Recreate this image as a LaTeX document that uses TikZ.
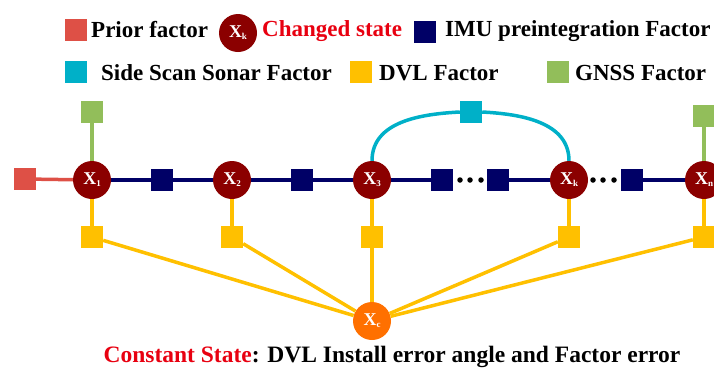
\documentclass[tikz,border=0pt]{standalone}
\usepackage{fontspec}
\setmainfont{Liberation Serif}
\definecolor{priorred}{RGB}{222,80,70}
\definecolor{statered}{RGB}{139,0,0}
\definecolor{textred}{RGB}{232,0,16}
\definecolor{imunavy}{RGB}{0,0,102}
\definecolor{sonarcyan}{RGB}{0,176,200}
\definecolor{dvlyellow}{RGB}{255,192,0}
\definecolor{gnssgreen}{RGB}{146,190,90}
\definecolor{constorange}{RGB}{255,112,0}
\newcommand{\xsub}[1]{X\raisebox{-0.25ex}{\fontsize{9}{9}\selectfont #1}}
\begin{document}
\begin{tikzpicture}[x=1pt,y=-1pt,
		state/.style={circle, fill=statered, minimum size=38pt, inner sep=0pt, text=white, font=\bfseries\fontsize{18}{18}\selectfont},
		factor/.style={rectangle, minimum size=22pt, inner sep=0pt},
		legtext/.style={anchor=west, inner sep=0pt, font=\bfseries\fontsize{23}{24}\selectfont},
		dotc/.style={circle, fill=black, minimum size=5.5pt, inner sep=0pt},
		link/.style={line width=3.5pt}]
		\useasboundingbox (0,0) rectangle (714,370);
		% legend
		\node[factor, fill=priorred] (lprior) at (76,30) {};
		\node[legtext] (tprior) at (91,30) {Prior factor};
		\node[state] (lstate) at (238,33) {\xsub{k}};
		\node[legtext, text=textred] (tstate) at (262,31) {Changed state};
		\node[factor, fill=imunavy] (limu) at (425,32) {};
		\node[legtext] (timu) at (445,31) {IMU preintegration Factor};
		\node[factor, fill=sonarcyan] (lsonar) at (76,72) {};
		\node[legtext] (tsonar) at (101,73) {Side Scan Sonar Factor};
		\node[factor, fill=dvlyellow] (ldvl) at (361,72) {};
		\node[legtext] (tdvl) at (379,73) {DVL Factor};
		\node[factor, fill=gnssgreen] (lgnss) at (558,72) {};
		\node[legtext] (tgnss) at (575,73) {GNSS Factor};
		% states
		\node[state] (x1) at (92,180) {\xsub{1}};
		\node[state] (x2) at (232,180) {\xsub{2}};
		\node[state] (x3) at (372,180) {\xsub{3}};
		\node[state] (xk) at (569,180) {\xsub{k}};
		\node[state] (xn) at (704,180) {\xsub{n}};
		\node[state, fill=constorange] (xc) at (372,321) {\xsub{c}};
		% prior and imu factors
		\node[factor, fill=priorred] (prior) at (25,179) {};
		\node[factor, fill=imunavy] (imu1) at (162,180) {};
		\node[factor, fill=imunavy] (imu2) at (302,180) {};
		\node[factor, fill=imunavy] (imu3) at (442,180) {};
		\node[factor, fill=imunavy] (imu4) at (498,180) {};
		\node[factor, fill=imunavy] (imu5) at (632,180) {};
		\foreach \px in {460,470,481,593,603,614}
			\node[dotc] at (\px,180) {};
		\draw[link, priorred] (prior) -- (x1);
		\draw[link, imunavy] (x1) -- (imu1) -- (x2) -- (imu2) -- (x3) -- (imu3);
		\draw[link, imunavy] (imu4) -- (xk);
		\draw[link, imunavy] (imu5) -- (xn);
		% gnss factors
		\node[factor, fill=gnssgreen] (gnss1) at (92,112) {};
		\node[factor, fill=gnssgreen] (gnssn) at (704,116) {};
		\draw[link, gnssgreen] (gnss1) -- (x1);
		\draw[link, gnssgreen] (gnssn) -- (xn);
		% sonar loop
		\node[factor, fill=sonarcyan] (sonar) at (471,112) {};
		\draw[link, sonarcyan] (x3.north) to[out=90, in=183] (sonar.west);
		\draw[link, sonarcyan] (sonar.east) to[out=-3, in=90] (xk.north);
		% dvl factors
		\foreach \nd/\px in {1/92,2/232,3/372,k/569,n/704} {
			\node[factor, fill=dvlyellow] (dvl\nd) at (\px,237) {};
			\draw[link, dvlyellow] (x\nd) -- (dvl\nd);
			\draw[link, dvlyellow] (dvl\nd) -- (xc);
		}
		% caption
		\node[inner sep=0pt, font=\bfseries\fontsize{23.5}{24}\selectfont] (caption) at (392,357)
			{\textcolor{textred}{Constant State}: DVL Install error angle and Factor error};
\end{tikzpicture}
\end{document}
